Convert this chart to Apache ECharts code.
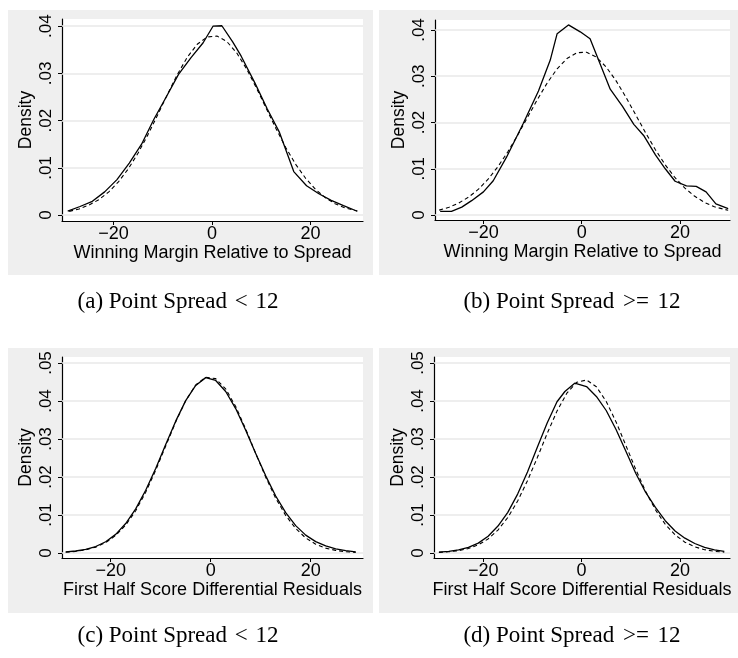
<!DOCTYPE html>
<html><head><meta charset="utf-8">
<script src="https://cdn.jsdelivr.net/npm/echarts@6/dist/echarts.min.js"></script>
<style>html,body{margin:0;padding:0;background:#fff}#c{width:738px;height:658px}</style>
</head><body><div id="c"></div>
<script>
// ---- text ----
const xTicks = [-20, 0, 20];
const yTicksTop = [0, 0.01, 0.02, 0.03, 0.04];
const yTicksBottom = [0, 0.01, 0.02, 0.03, 0.04, 0.05];
const xTitleTop = 'Winning Margin Relative to Spread';
const xTitleBottom = 'First Half Score Differential Residuals';
const yTitle = 'Density';
const capLabels = ['(a)', '(b)', '(c)', '(d)'];
const capRelations = ['<', '>=', '<', '>='];
const capLead = 'Point Spread';
const capValue = '12';

// ---- data: kernel density (solid) and normal density (dashed) ----
const aSolidX = [-29.3, -26.8, -24.3, -21.8, -19.3, -16.8, -14.3, -11.8, -9.3, -6.8, -4.3, -1.8, 0.2, 2.0, 4.2, 5.9, 8.7, 11.2, 13.7, 16.6, 19.2, 21.7, 24.2, 26.7, 29.5];
const aSolidY = [0.0008, 0.0018, 0.0029, 0.0049, 0.0075, 0.0110, 0.0150, 0.0203, 0.0250, 0.0298, 0.0333, 0.0365, 0.0400, 0.0401, 0.0367, 0.0337, 0.0280, 0.0225, 0.0175, 0.0092, 0.0062, 0.0045, 0.0031, 0.0020, 0.0008];
const aDashX = [-29, -27, -25, -23, -21, -19, -17, -15, -13, -11, -9, -7, -5, -3, -1, 1, 3, 5, 7, 9, 11, 13, 15, 17, 19, 21, 23, 25, 27, 29.5];
const aDashY = [0.00077, 0.00129, 0.00209, 0.00324, 0.00486, 0.00702, 0.00978, 0.01314, 0.01703, 0.0213, 0.02567, 0.02984, 0.03346, 0.03617, 0.03771, 0.03792, 0.03677, 0.03438, 0.0310, 0.02696, 0.02261, 0.01829, 0.01426, 0.01073, 0.00778, 0.00544, 0.00367, 0.00239, 0.0015, 0.00085];

const bSolidX = [-28.8, -26.5, -24.4, -22.4, -20.0, -18.0, -15.3, -11.9, -8.8, -6.4, -5.0, -2.7, -0.3, 1.7, 5.8, 8.3, 10.6, 12.6, 15.0, 17.0, 19.0, 21.3, 23.3, 25.3, 27.3, 29.8];
const bSolidY = [0.0008, 0.0008, 0.0017, 0.0031, 0.0050, 0.0074, 0.0125, 0.0198, 0.0268, 0.0335, 0.0392, 0.0411, 0.0396, 0.0381, 0.0272, 0.0235, 0.0196, 0.0172, 0.0130, 0.0100, 0.0073, 0.0063, 0.0062, 0.0050, 0.0024, 0.0014];
const bDashX = [-29, -27, -25, -23, -21, -19, -17, -15, -13, -11, -9, -7, -5, -3, -1, 1, 3, 5, 7, 9, 11, 13, 15, 17, 19, 21, 23, 25, 27, 29.8];
const bDashY = [0.00105, 0.00168, 0.0026, 0.00388, 0.00558, 0.0078, 0.01052, 0.01373, 0.01733, 0.02117, 0.02501, 0.02859, 0.0316, 0.03382, 0.03508, 0.0352, 0.03412, 0.03198, 0.029, 0.02545, 0.02162, 0.01776, 0.01411, 0.01084, 0.00806, 0.0058, 0.00404, 0.00272, 0.00177, 0.00102];

const cSolidX = [-29, -27, -25, -23, -21, -19, -17, -15, -13, -11, -9, -7, -5, -3, -1, 1, 3, 5, 7, 9, 11, 13, 15, 17, 19, 21, 23, 25, 27, 29];
const cSolidY = [0.00028, 0.00052, 0.00095, 0.0017, 0.00295, 0.0049, 0.00775, 0.0116, 0.0165, 0.02225, 0.02855, 0.0347, 0.0401, 0.0441, 0.04615, 0.0454, 0.0425, 0.0380, 0.0323, 0.0262, 0.0203, 0.0150, 0.0106, 0.0072, 0.0047, 0.0030, 0.00185, 0.0011, 0.0006, 0.0003];
const cDashX = [-29, -27, -25, -23, -21, -19, -17, -15, -13, -11, -9, -7, -5, -3, -1, 1, 3, 5, 7, 9, 11, 13, 15, 17, 19, 21, 23, 25, 27, 29];
const cDashY = [0.0002, 0.00042, 0.00082, 0.00154, 0.00274, 0.00461, 0.00735, 0.01113, 0.01599, 0.02178, 0.02814, 0.03449, 0.0401, 0.04422, 0.04625, 0.04588, 0.04318, 0.03854, 0.03263, 0.0262, 0.01996, 0.01442, 0.00988, 0.00643, 0.00396, 0.00232, 0.00128, 0.00068, 0.00034, 0.00016];

const dSolidX = [-29, -27, -25, -23, -21, -19, -17, -15, -13, -11, -9, -7, -5, -3.4, -1.4, 1, 3, 5, 7, 9, 11, 13, 15, 17, 19, 21, 23, 25, 27, 29];
const dSolidY = [0.0002, 0.0004, 0.0008, 0.0015, 0.0026, 0.0044, 0.0071, 0.0107, 0.0155, 0.0213, 0.0278, 0.0342, 0.0398, 0.0425, 0.0447, 0.0438, 0.0412, 0.0375, 0.0325, 0.0268, 0.0210, 0.0160, 0.0120, 0.0085, 0.0058, 0.0039, 0.0025, 0.0015, 0.0008, 0.0004];
const dDashX = [-29, -27, -25, -23, -21, -19, -17, -15, -13, -11, -9, -7, -5, -3, -1, 1, 3, 5, 7, 9, 11, 13, 15, 17, 19, 21, 23, 25, 27, 29];
const dDashY = [0.00015, 0.00031, 0.00062, 0.00119, 0.00215, 0.0037, 0.00603, 0.00933, 0.01368, 0.01903, 0.02512, 0.03145, 0.03734, 0.04206, 0.04493, 0.04553, 0.04375, 0.03989, 0.0345, 0.0283, 0.02201, 0.01624, 0.01137, 0.00755, 0.00476, 0.00284, 0.00161, 0.00087, 0.00044, 0.00021];

const zip = (xs, ys) => xs.map((x, i) => [x, ys[i]]);
const panels = [
  { solid: zip(aSolidX, aSolidY), dash: zip(aDashX, aDashY), yTicks: yTicksTop, xTitle: xTitleTop,
    grid: { left: 62, top: 19, width: 301, height: 202 }, xr: [-30.46, 30.66], yr: [-0.00127, 0.04153] },
  { solid: zip(bSolidX, bSolidY), dash: zip(bDashX, bDashY), yTicks: yTicksTop, xTitle: xTitleTop,
    grid: { left: 435, top: 20, width: 295, height: 200 }, xr: [-29.85, 30.17], yr: [-0.00108, 0.04216] },
  { solid: zip(cSolidX, cSolidY), dash: zip(cDashX, cDashY), yTicks: yTicksBottom, xTitle: xTitleBottom,
    grid: { left: 62, top: 357, width: 301, height: 201 }, xr: [-29.74, 30.46], yr: [-0.00132, 0.05158] },
  { solid: zip(dSolidX, dSolidY), dash: zip(dDashX, dDashY), yTicks: yTicksBottom, xTitle: xTitleBottom,
    grid: { left: 434, top: 357, width: 296, height: 201 }, xr: [-30.0, 30.16], yr: [-0.00132, 0.05158] }
];

const FONT = 'Liberation Sans';
const CAPFONT = '23px "Liberation Serif"';
const fmtY = v => (v === 0 ? '0' : String(+v.toFixed(2)).replace(/^0/, ''));
const fmtX = v => (v < 0 ? '\u2212' + Math.abs(v) : String(v));
const capText = (i, x, y) => ({
  type: 'text', x: x, y: y,
  style: {
    text: capLabels[i] + ' ' + capLead + ' {r|' + capRelations[i] + '} ' + capValue,
    font: CAPFONT, fill: '#000', textAlign: 'center', textVerticalAlign: 'middle',
    rich: { r: { font: CAPFONT, fill: '#000', padding: [0, capRelations[i].length > 1 ? 3 : 2] } }
  }
});

const option = {
  animation: false,
  backgroundColor: '#fff',
  graphic: {
    elements: [
      { type: 'rect', z: -10, shape: { x: 8, y: 10, width: 365, height: 265 }, style: { fill: '#efefef' } },
      { type: 'rect', z: -10, shape: { x: 379, y: 10, width: 359, height: 265 }, style: { fill: '#efefef' } },
      { type: 'rect', z: -10, shape: { x: 8, y: 348, width: 365, height: 265 }, style: { fill: '#efefef' } },
      { type: 'rect', z: -10, shape: { x: 379, y: 348, width: 359, height: 265 }, style: { fill: '#efefef' } },
      capText(0, 178, 302),
      capText(1, 572, 302),
      capText(2, 178, 636),
      capText(3, 572, 636)
    ]
  },
  grid: panels.map(p => Object.assign({ show: true, backgroundColor: '#fff', borderWidth: 0, containLabel: false }, p.grid)),
  xAxis: panels.map((p, i) => ({
    type: 'value', gridIndex: i, min: p.xr[0], max: p.xr[1],
    name: p.xTitle, nameLocation: 'middle', nameGap: 22,
    nameTextStyle: { fontFamily: FONT, fontSize: 18, color: '#000' },
    axisLine: { show: true, onZero: false, lineStyle: { color: '#000', width: 1.2 } },
    axisTick: { show: true, length: 4, customValues: xTicks, lineStyle: { color: '#000' } },
    axisLabel: { show: true, customValues: xTicks, formatter: fmtX, margin: 4, fontFamily: FONT, fontSize: 18, color: '#000' },
    splitLine: { show: false }
  })),
  yAxis: panels.map((p, i) => ({
    type: 'value', gridIndex: i, min: p.yr[0], max: p.yr[1],
    name: yTitle, nameLocation: 'middle', nameGap: 27, nameRotate: 90,
    nameTextStyle: { fontFamily: FONT, fontSize: 17.5, color: '#000' },
    axisLine: { show: true, onZero: false, lineStyle: { color: '#000', width: 1.2 } },
    axisTick: { show: true, length: 4, customValues: p.yTicks, lineStyle: { color: '#000' } },
    axisLabel: { show: true, customValues: p.yTicks, formatter: fmtY, rotate: 90, margin: 7, fontFamily: FONT, fontSize: 17, color: '#000' },
    splitLine: { show: false }
  })),
  series: panels.flatMap((p, i) => [
    { type: 'line', xAxisIndex: i, yAxisIndex: i, data: [], z: 1, silent: true,
      markLine: { silent: true, symbol: 'none', z: 1, animation: false, label: { show: false },
        lineStyle: { color: '#e8e8e8', type: 'solid', width: 1.5 },
        data: p.yTicks.map(v => ({ yAxis: v })) } },
    { type: 'line', xAxisIndex: i, yAxisIndex: i, data: p.dash, showSymbol: false, silent: true, z: 3,
      lineStyle: { color: '#000', width: 1.1, type: [4, 3] } },
    { type: 'line', xAxisIndex: i, yAxisIndex: i, data: p.solid, showSymbol: false, silent: true, z: 4,
      lineStyle: { color: '#000', width: 1.3, type: 'solid' } }
  ])
};

const chart = echarts.init(document.getElementById('c'), null, { renderer: 'canvas' });
chart.setOption(option);
</script>
</body></html>
